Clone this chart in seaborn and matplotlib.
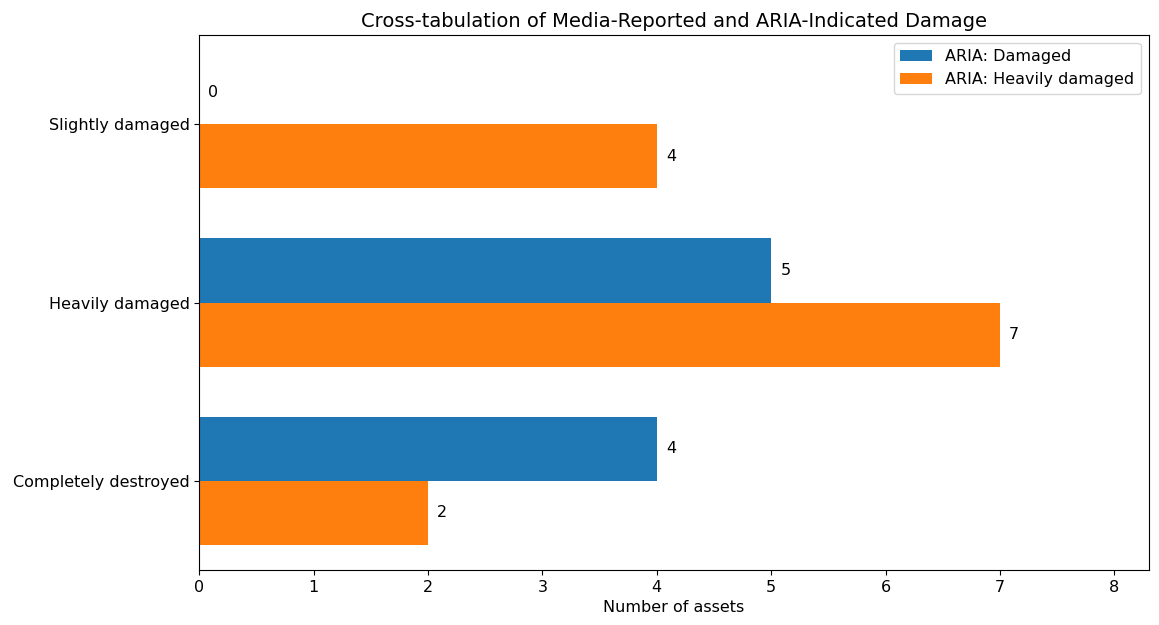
import pandas as pd
import matplotlib.pyplot as plt
import seaborn as sns

# media-reported damage classes (top to bottom)
media_classes = ["Slightly damaged", "Heavily damaged", "Completely destroyed"]
aria_damaged = [0, 5, 4]
aria_heavy = [4, 7, 2]
series_names = ["ARIA: Damaged", "ARIA: Heavily damaged"]

df = pd.DataFrame({
    "media": media_classes * 2,
    "aria": [series_names[0]] * 3 + [series_names[1]] * 3,
    "count": aria_damaged + aria_heavy,
})

fig, ax = plt.subplots(figsize=(11.59, 6.25), dpi=100)
sns.barplot(data=df, x="count", y="media", hue="aria", order=media_classes,
            hue_order=series_names, palette=["#1f77b4", "#ff7f0e"],
            saturation=1, width=0.72, linewidth=0, orient="h", ax=ax)

# value labels next to each bar
for cont in ax.containers:
    for bar in cont:
        w = bar.get_width()
        ax.text(w + 0.08, bar.get_y() + bar.get_height() / 2, f"{int(w)}",
                ha="left", va="center", fontsize=11.5)

ax.set_xlim(0, 8.3)
ax.set_title("Cross-tabulation of Media-Reported and ARIA-Indicated Damage", fontsize=14)
ax.set_xlabel("Number of assets", fontsize=11.5)
ax.set_ylabel("")
ax.tick_params(labelsize=11.5)
ax.legend(loc="upper right", fontsize=11.5)

plt.subplots_adjust(left=0.172, right=0.991, top=0.944, bottom=0.088)
plt.savefig("out.png", dpi=100)
